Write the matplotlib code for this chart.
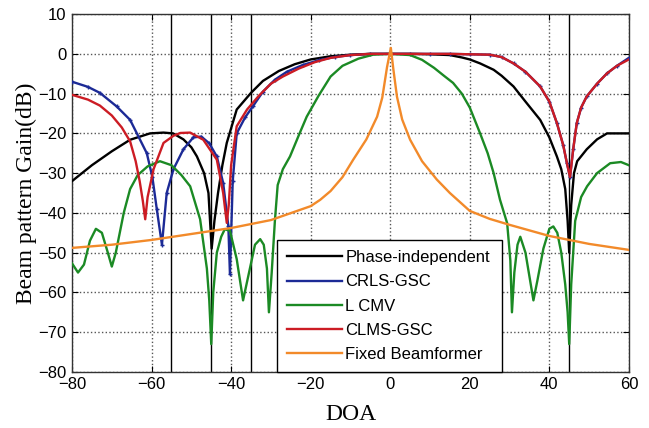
import matplotlib
matplotlib.use("Agg")
import matplotlib.pyplot as plt

# ---------------- data ----------------
phase_x = [-80, -75, -70, -65.4, -60.4, -57, -54.6, -52, -50, -48.6, -46.8, -45.7, -44.9, -44.2,
           -43.3, -42.2, -41.1, -38.6, -35, -32, -28, -24, -20, -15, -10, -5, 0, 5, 10, 15, 18,
           20, 22.6, 26, 28, 31, 34, 37.7, 40, 41.9, 43, 44, 44.6, 45, 45.5, 46.2, 47, 49.4, 52,
           54.5, 57, 60]
phase_y = [-32, -28, -24.5, -21.6, -20, -19.8, -20, -21.5, -23.5, -25.8, -30, -35, -49, -42,
           -35, -28, -22.4, -14, -9.8, -6.8, -4.3, -2.6, -1.4, -0.6, -0.2, 0, 0, 0, -0.1, -0.3,
           -0.9, -1.4, -2.4, -4, -5.5, -8.2, -12, -16.6, -21, -25.8, -29, -34, -42, -50, -38,
           -30, -27, -24, -21.5, -20, -20, -20]

crls_x = [-80, -76, -73, -68.8, -65.4, -61.2, -59.8, -58.7, -57.4, -56.2, -54.5, -52, -49.5,
          -47.5, -45.5, -43.6, -42, -40.7, -40.3, -39.6, -38.6, -36.5, -34.4, -32, -29, -26, -22,
          -18, -14, -10, -5, 0, 5, 10, 15, 20, 25, 28, 31, 34, 37.7, 40, 41.9, 43.5, 44.4, 45.2,
          46, 46.9, 48, 49.4, 52, 54.5, 57, 60]
crls_y = [-7, -8.3, -9.8, -13.2, -16.6, -25, -31, -39, -48, -35, -29, -24, -21, -20.8, -22.5,
          -25.8, -32.5, -43.3, -55.4, -32, -20, -16, -13, -9.5, -6.5, -4.5, -2.8, -1.6, -0.8,
          -0.3, 0, 0, 0, 0, 0, -0.1, -0.2, -0.8, -2.4, -4.5, -8.2, -12, -17.4, -23, -27.4, -31,
          -24, -17.4, -13.5, -10.7, -7.5, -4.9, -3, -1.0]

lcmv_x = [-80, -78.5, -77, -75.5, -74, -72.5, -71, -70, -69, -68, -67, -65.4, -63.5, -61, -57.9,
          -55, -52.5, -50.3, -47.8, -46.1, -45.5, -45, -44.5, -43.6, -42.5, -41.6, -40.3, -38.6,
          -37, -35.5, -34, -32.7, -31.8, -31, -30.5, -29.8, -29, -28.3, -27, -25.2, -23, -21,
          -18, -15, -12, -8, -4.3, 0, 5, 8, 11, 13.5, 15.8, 18, 20, 22.6, 24.5, 26, 27.6, 29.4,
          30.2, 30.6, 31.2, 32, 32.7, 34, 35, 36, 37, 38.5, 40, 41, 42, 43, 44, 44.6, 45, 45.5,
          46.5, 48, 49.5, 52, 55.3, 58, 60]
lcmv_y = [-52.7, -55, -53, -47, -44, -45, -50, -53.5, -50, -45, -40, -34, -30.5, -28.3, -27,
          -28, -30.5, -33.3, -41.6, -54, -62, -73, -60, -50, -46, -44.1, -44.5, -51.6, -62,
          -55, -48, -46.6, -48, -54, -65, -55, -42, -33, -29, -25.8, -20.5, -15.8, -10.5, -5.7,
          -3, -1.2, -0.2, 0, -0.3, -1.5, -3.5, -5.5, -7.3, -10, -13.5, -20, -25, -30, -36.7,
          -42.6, -52, -65, -55, -48, -46, -50, -56, -62, -57, -49, -44, -43.4, -45, -50, -58,
          -65, -73, -58, -42, -36, -33.3, -30, -27.5, -27.2, -28]

clms_x = [-80, -76, -73, -70, -67.5, -65.4, -64, -63, -62.2, -61.6, -61, -59.5, -57, -54.5,
          -52.8, -50.3, -47, -43.6, -42, -41.1, -40.6, -40, -38.6, -36, -33, -30, -27, -23, -19,
          -15, -10, -5, 0, 5, 10, 15, 20, 25, 28, 31, 34, 37.7, 40, 41.9, 43.5, 44.4, 45.2, 46,
          46.9, 48, 49.4, 52, 54.5, 57, 60]
clms_y = [-10.3, -11.5, -13, -15.5, -18.5, -22, -27, -32, -37, -41.6, -36, -29, -22.4, -20.6,
          -19.9, -19.8, -21.6, -26.6, -35, -42.5, -38, -28, -18.2, -14, -10.5, -7.5, -5.7, -3.7,
          -2.1, -1, -0.3, 0, 0, 0, 0, 0, -0.1, -0.2, -0.8, -2.4, -4.5, -8.2, -12, -17.4, -23,
          -27.4, -31, -24, -17.4, -13.5, -10.7, -7.5, -4.9, -3, -1.4]

fixed_x = [-80, -70, -60, -50, -40, -30, -20, -17.6, -15, -12, -9.3, -6, -3.3, -2, -0.8, 0.15,
           0.8, 1.7, 3, 5, 8, 11.7, 15, 20, 25, 30, 40, 45, 50, 60]
fixed_y = [-48.8, -48, -46.8, -45.3, -43.8, -41.8, -38.3, -36.7, -34.5, -31, -26.6, -21.5,
           -15.8, -11, -3.3, 1.5, -4, -10.8, -16.5, -21.6, -27, -31.6, -35, -39.5, -41.5, -43,
           -45.8, -46.8, -47.8, -49.3]

interference_doa = [-55, -45, -35, 45]

labels = ["Phase-independent", "CRLS-GSC", "L CMV", "CLMS-GSC", "Fixed Beamformer"]
xticks = [-80, -60, -40, -20, 0, 20, 40, 60]
yticks = [-80, -70, -60, -50, -40, -30, -20, -10, 0, 10]

# ---------------- figure ----------------
plt.rcParams["font.family"] = ["Liberation Sans", "DejaVu Sans"]
fig = plt.figure(figsize=(6.49, 4.28), dpi=100)
ax = fig.add_axes([0.111, 0.131, 0.858, 0.836])

lw = 1.7
ax.plot(phase_x, phase_y, color="black", lw=lw, label=labels[0], zorder=3)
ax.plot(crls_x, crls_y, color="#1c2a96", lw=lw, marker="+", markersize=3.5, mew=1.0,
        label=labels[1], zorder=3)
ax.plot(lcmv_x, lcmv_y, color="#1b8a24", lw=lw, label=labels[2], zorder=3)
ax.plot(clms_x, clms_y, color="#cc1c24", lw=lw, label=labels[3], zorder=3)
ax.plot(fixed_x, fixed_y, color="#f28a2a", lw=lw, label=labels[4], zorder=3)

for d in interference_doa:
    ax.axvline(d, color="black", lw=1.0, zorder=2)

ax.set_xlim(-80, 60)
ax.set_ylim(-80, 10)
ax.set_xticks(xticks)
ax.set_yticks(yticks)
ax.grid(True, color="#555555", linestyle=":", linewidth=1.0)
ax.tick_params(direction="in", top=True, right=True, labelsize=12, length=4, pad=4)
for s in ax.spines.values():
    s.set_color("#333333")
    s.set_linewidth(1.0)

ax.set_xlabel("DOA", family=["Liberation Serif"], fontsize=17, labelpad=8)
ax.set_ylabel("Beam pattern Gain(dB)", family=["Liberation Serif"], fontsize=17, labelpad=1)

leg = ax.legend(loc="lower left", bbox_to_anchor=(0.368, 0.0, 0.404, 0.363), mode="expand",
                borderaxespad=0, fontsize=12, handlelength=3.3, handletextpad=0.2,
                labelspacing=0.55, fancybox=False, framealpha=1, edgecolor="black",
                borderpad=0.6)
leg.get_frame().set_linewidth(1.0)
for h in leg.legend_handles:
    h.set_marker("")
leg.set_zorder(5)

fig.savefig("out.png", dpi=100)
